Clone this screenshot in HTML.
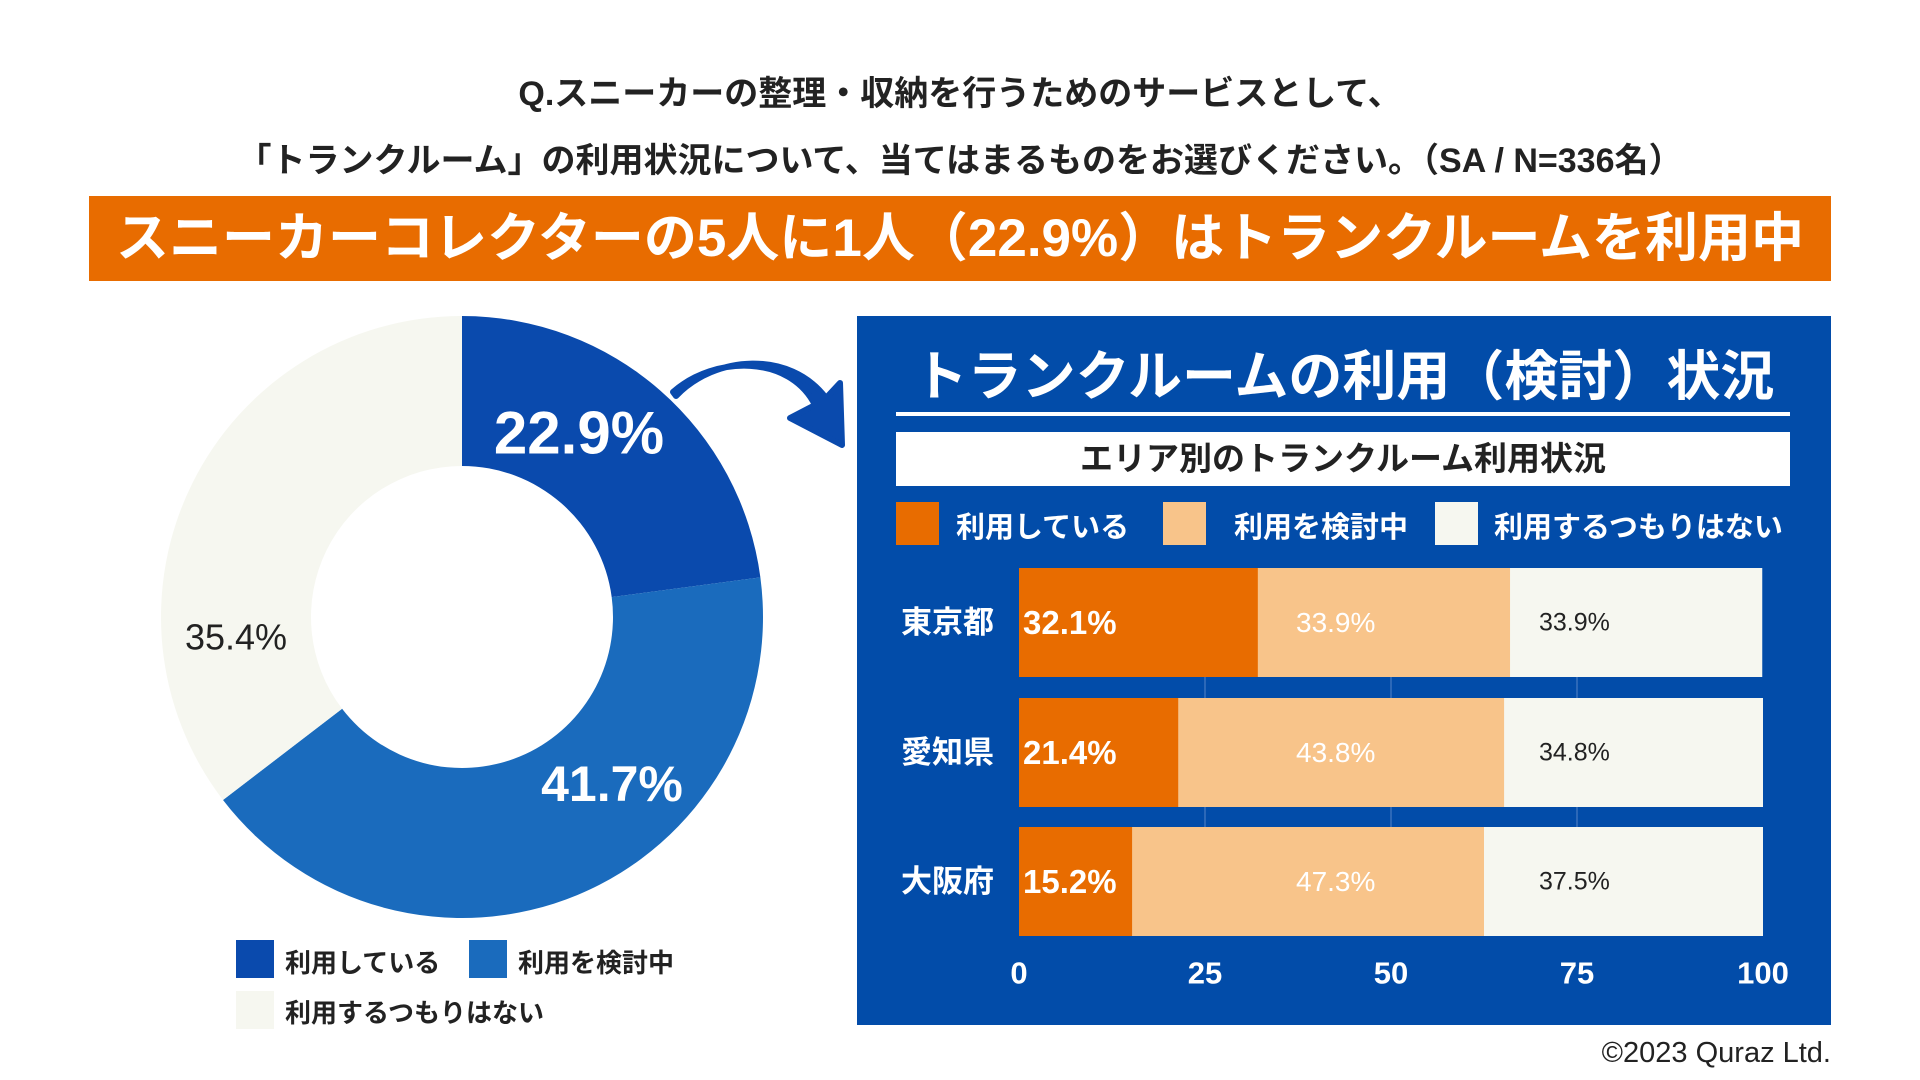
<!DOCTYPE html>
<html><head><meta charset="utf-8"><style>
body{margin:0;width:1920px;height:1080px;background:#fff;position:relative;overflow:hidden;font-family:"Liberation Sans","Noto Sans CJK JP",sans-serif;color:#222}
.a{position:absolute}
</style></head><body>
<div class="a" style="left:0;width:1920px;top:66px;text-align:center;font-size:34px;font-weight:bold">Q.スニーカーの整理・収納を行うためのサービスとして、</div>
<div class="a" style="left:0;width:1920px;top:133px;text-align:center;font-size:34px;font-weight:bold">「トランクルーム」の利用状況について、当てはまるものをお選びください。（SA / N=336名）</div>
<div class="a" style="left:89px;top:196px;width:1742px;height:85px;background:#e86c00;color:#fff;font-size:53px;font-weight:bold;text-align:center;line-height:85px">スニーカーコレクターの5人に1人（22.9%）はトランクルームを利用中</div>
<svg class="a" style="left:0;top:0" width="1920" height="1080">
<g id="donut"></g>
<path d="M673 392 C715 355 790 355 815 405 L790 418 L842 445 L840 383 L826 398 C790 350 715 355 676 396 Z" fill="#0a4aad" stroke="#0a4aad" stroke-width="6" stroke-linejoin="round"/>
</svg>
<div class="a" style="left:857px;top:316px;width:974px;height:709px;background:#024ca9"></div>
<div class="a" style="left:857px;width:974px;top:332px;text-align:center;font-size:54px;font-weight:bold;color:#fff">トランクルームの利用（検討）状況</div>
<div class="a" style="left:896px;top:412px;width:894px;height:4px;background:#fff"></div>
<div class="a" style="left:896px;top:432px;width:894px;height:54px;background:#fff;text-align:center;line-height:54px;font-size:33px;font-weight:bold;color:#222">エリア別のトランクルーム利用状況</div>
<div class="a" style="left:896px;top:502px;width:43px;height:43px;background:#e86c00"></div>
<div class="a" style="left:956px;top:504px;font-size:29px;font-weight:bold;color:#fff">利用している</div>
<div class="a" style="left:1163px;top:502px;width:43px;height:43px;background:#f8c48a"></div>
<div class="a" style="left:1234px;top:504px;font-size:29px;font-weight:bold;color:#fff">利用を検討中</div>
<div class="a" style="left:1435px;top:502px;width:43px;height:43px;background:#f6f7f0"></div>
<div class="a" style="left:1494px;top:504px;font-size:29px;font-weight:bold;color:#fff">利用するつもりはない</div>
<svg class="a" style="left:0;top:0" width="1920" height="1080" id="bars"></svg>
<div class="a" style="left:236px;top:940px;width:38px;height:38px;background:#0a4aad"></div>
<div class="a" style="left:285px;top:943px;font-size:26px;font-weight:bold">利用している</div>
<div class="a" style="left:469px;top:940px;width:38px;height:38px;background:#1a6bbd"></div>
<div class="a" style="left:518px;top:943px;font-size:26px;font-weight:bold">利用を検討中</div>
<div class="a" style="left:236px;top:991px;width:38px;height:38px;background:#f6f7f0"></div>
<div class="a" style="left:285px;top:993px;font-size:26px;font-weight:bold">利用するつもりはない</div>
<div class="a" style="right:89px;top:1037px;font-size:29px;color:#222">©2023 Quraz Ltd.</div>
<script>
const donutLabels=["利用している","利用を検討中","利用するつもりはない"];
const donutValues=[22.9,41.7,35.4];
const donutColors=["#0a4aad","#1a6bbd","#f6f7f0"];
const regions=["東京都","愛知県","大阪府"];
const usedVals=[32.1,21.4,15.2];
const considerVals=[33.9,43.8,47.3];
const notVals=[33.9,34.8,37.5];
const ticks=[0,25,50,75,100];
const NS="http://www.w3.org/2000/svg";
function mk(t,a,p){const e=document.createElementNS(NS,t);for(const k in a)e.setAttribute(k,a[k]);p.appendChild(e);return e;}
const g=document.getElementById('donut');const cx=462,cy=617,R=301,r=151;
let acc=0;const tot=donutValues.reduce((a,b)=>a+b,0);
const pt=(ang,rad)=>[cx+rad*Math.sin(ang),cy-rad*Math.cos(ang)];
const labStyle=[{c:"#fff",s:60,w:"bold",dx:117,dy:-184},{c:"#fff",s:50,w:"bold",dx:150,dy:167},{c:"#222",s:36,w:"normal",dx:-226,dy:20}];
donutValues.forEach((v,i)=>{
 const a0=acc/tot*2*Math.PI;acc+=v;const a1=acc/tot*2*Math.PI;const lg=(a1-a0)>Math.PI?1:0;
 const [x0,y0]=pt(a0,R),[x1,y1]=pt(a1,R),[x2,y2]=pt(a1,r),[x3,y3]=pt(a0,r);
 const p=mk('path',{d:`M${x0} ${y0}A${R} ${R} 0 ${lg} 1 ${x1} ${y1}L${x2} ${y2}A${r} ${r} 0 ${lg} 0 ${x3} ${y3}Z`,fill:donutColors[i]},g);
 
 
 const st=labStyle[i];
 const t=mk('text',{x:cx+st.dx,y:cy+st.dy,'text-anchor':'middle','dominant-baseline':'central','font-size':st.s,'font-weight':st.w,fill:st.c},g);
 t.textContent=v.toFixed(1)+'%';
 
 
});
const s=document.getElementById('bars');
const X0=1019,X1=1763,xs=v=>X0+(X1-X0)*v/100;
const rowTop=[568,698,827],bh=109;
ticks.slice(1,4).forEach(tk=>{const l=mk('line',{x1:xs(tk),x2:xs(tk),y1:677,y2:827,stroke:'#2c68b8','stroke-width':2},s);
 
 });
regions.forEach((rg,i)=>{
 const y=rowTop[i];
 const segs=[[usedVals[i],'#e86c00','#fff','bold',33],[considerVals[i],'#f8c48a','#fff','normal',28],[notVals[i],'#f6f7f0','#222','normal',25]];
 let st=0;
 segs.forEach((sg,j)=>{
  const rect=mk('rect',{x:xs(st),y:y,width:xs(st+sg[0])-xs(st)+(j==2?0:0.5),height:bh,fill:sg[1]},s);
  
  
  const tx=j==0?xs(st)+4:(j==1?xs(50)-95:xs(75)-38);
  const t=mk('text',{x:tx,y:y+bh/2,'dominant-baseline':'central','font-size':sg[4],'font-weight':sg[3],fill:sg[2]},s);
  t.textContent=sg[0].toFixed(1)+'%';
  
  
  st+=sg[0];
 });
 const l=mk('text',{x:901,y:y+bh/2,'dominant-baseline':'central','font-size':31,'font-weight':'bold',fill:'#fff'},s);
 l.textContent=rg;
 
 
});
ticks.forEach(tk=>{const t=mk('text',{x:xs(tk),y:973,'text-anchor':'middle','dominant-baseline':'central','font-size':31,'font-weight':'bold',fill:'#fff'},s);
 t.textContent=tk;
 
 });
</script>
</body></html>
